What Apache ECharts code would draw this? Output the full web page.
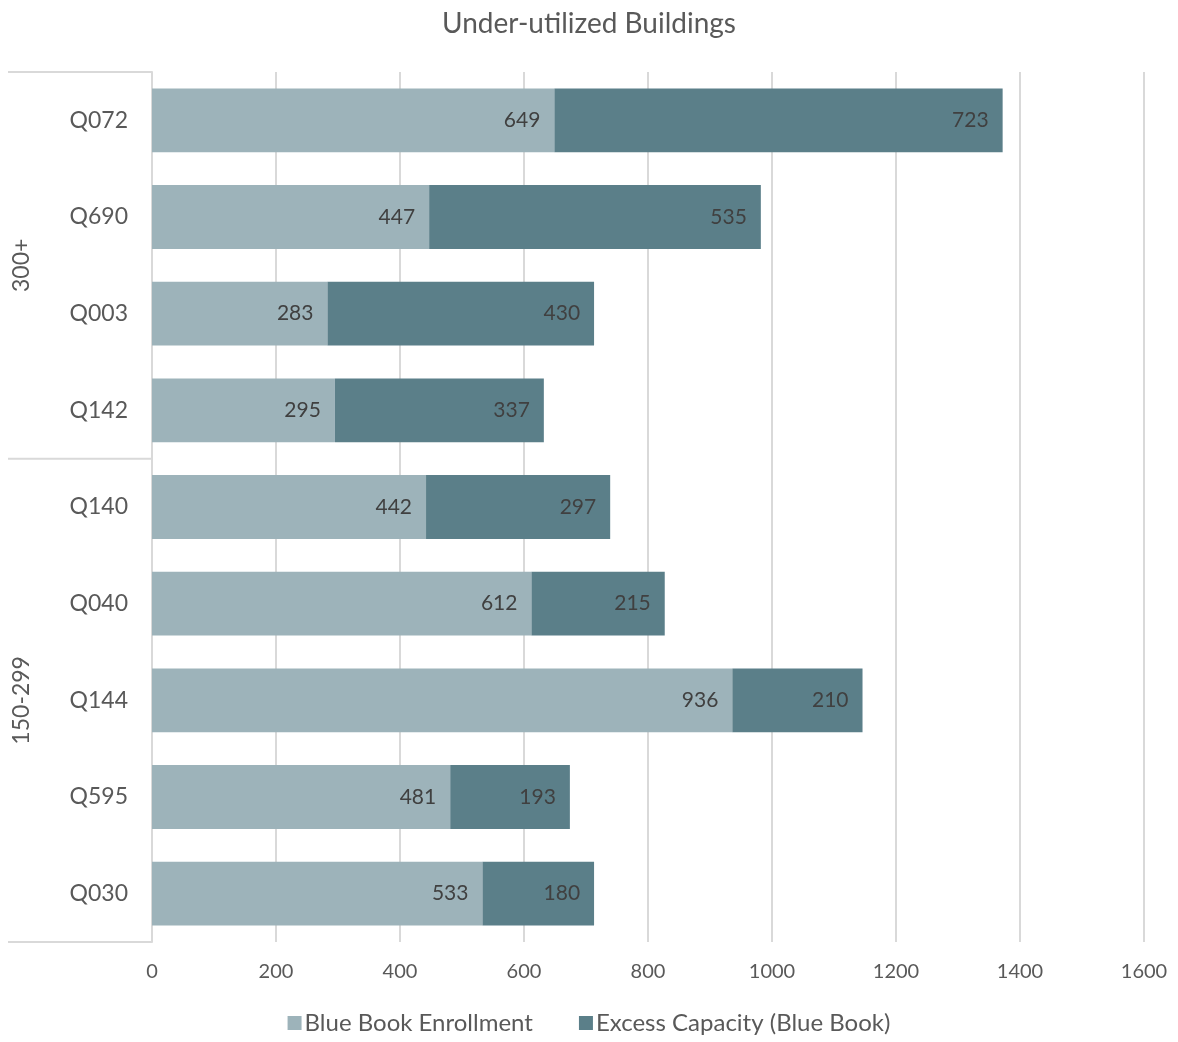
<!DOCTYPE html>
<html><head><meta charset="utf-8">
<script src="https://cdn.jsdelivr.net/npm/echarts@6/dist/echarts.min.js"></script>
<style>html,body{margin:0;padding:0;background:#fff}#c{width:1178px;height:1042px}</style>
</head><body><div id="c"></div>
<script>
const categories = ['Q072','Q690','Q003','Q142','Q140','Q040','Q144','Q595','Q030'];
const groups = [{name:'300+', count:4},{name:'150-299', count:5}];
const enrollment = [649,447,283,295,442,612,936,481,533];
const excess = [723,535,430,337,297,215,210,193,180];
const xTicks = {min:0, max:1600, interval:200};

const FONT = 'Lato';
const TXT = '#595959';
const chart = echarts.init(document.getElementById('c'));
const G = {left:152, right:34, top:72, bottom:100};
const labelCfg = {show:true, position:'insideRight', distance:14, color:'#404040', fontSize:21, fontFamily:FONT};
chart.setOption({
  animation:false,
  title:{text:'Under-utilized Buildings', left:'center', top:5, textStyle:{fontFamily:FONT, fontWeight:'normal', fontSize:28, color:TXT}},
  legend:{bottom:2, left:'center', itemWidth:14, itemHeight:14, itemGap:46, itemStyle:{}, icon:'rect',
    textStyle:{fontFamily:FONT, fontSize:24, color:TXT, padding:[0,0,0,-2]}},
  grid:{left:G.left, right:G.right, top:G.top, bottom:G.bottom, containLabel:false},
  xAxis:{type:'value', min:xTicks.min, max:xTicks.max, interval:xTicks.interval,
    axisLine:{show:false}, axisTick:{show:false},
    axisLabel:{fontFamily:FONT, fontSize:20, color:TXT, margin:20, formatter:v=>String(v)},
    splitLine:{lineStyle:{color:'#d9d9d9', width:2}}},
  yAxis:{type:'category', data:categories, inverse:true,
    axisLine:{lineStyle:{color:'#d9d9d9', width:2}}, axisTick:{show:false},
    axisLabel:{fontFamily:FONT, fontSize:23, color:TXT, margin:24}},
  series:[
    {name:'Blue Book Enrollment', type:'bar', stack:'s', data:enrollment, barCategoryGap:'34%',
      itemStyle:{color:'#9db3ba'}, label:labelCfg},
    {name:'Excess Capacity (Blue Book)', type:'bar', stack:'s', data:excess,
      itemStyle:{color:'#5b7f89'}, label:labelCfg}
  ]
});
// group brackets
const gr = chart.getModel().getComponent('grid').coordinateSystem.getRect();
const band = gr.height / categories.length;
const els = [];
let idx = 0;
const lineStyle = {stroke:'#d9d9d9', lineWidth:2};
els.push({type:'line', shape:{x1:8, y1:gr.y, x2:gr.x, y2:gr.y}, style:lineStyle});
groups.forEach(g => {
  const y0 = gr.y + idx*band, y1 = gr.y + (idx+g.count)*band;
  els.push({type:'line', shape:{x1:8, y1:y1, x2:gr.x, y2:y1}, style:lineStyle});
  els.push({type:'text', x:22, y:(y0+y1)/2, rotation:Math.PI/2,
    style:{text:g.name, fontFamily:FONT, fontSize:23, fill:TXT, align:'center', verticalAlign:'middle'}});
  idx += g.count;
});
chart.setOption({graphic:{elements:els}});
</script></body></html>
